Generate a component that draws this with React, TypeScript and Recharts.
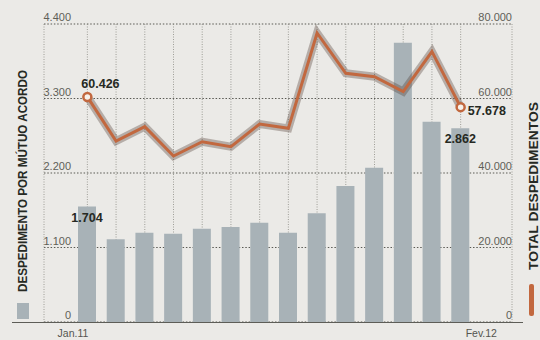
import { ComposedChart, Bar, Line, XAxis, YAxis, CartesianGrid, LabelList } from 'recharts'

const months = ['Jan.11', 'Fev.11', 'Mar.11', 'Abr.11', 'Mai.11', 'Jun.11', 'Jul.11', 'Ago.11', 'Set.11', 'Out.11', 'Nov.11', 'Dez.11', 'Jan.12', 'Fev.12']
const mutuoAcordo = [1704, 1221, 1319, 1304, 1378, 1403, 1467, 1319, 1605, 2008, 2279, 4124, 2958, 2862]
const totalDespedimentos = [60426, 48591, 52430, 44564, 48403, 47069, 53154, 51991, 77585, 66765, 65861, 61834, 72570, 57678]
const leftTicks = [0, 1100, 2200, 3300, 4400]
const rightTicks = [0, 20000, 40000, 60000, 80000]

const data = months.map((m, i) => ({ mes: m, mutuo: mutuoAcordo[i], total: totalDespedimentos[i] }))
const last = months.length - 1

const FONT = "'Liberation Sans', Arial, sans-serif"
const DARK = '#262923'
const BAR = '#a8b2b7'
const LINE = '#c2683f'

const fmt = (n: number) => String(n).replace(/\B(?=(\d{3})+(?!\d))/g, '.')

// eslint-disable-next-line @typescript-eslint/no-explicit-any
const yTick = (anchorX: number) => (props: any) => (
  <text key={props.index} x={anchorX} y={props.y - 3} textAnchor="end" fontSize={11} fill="#5f5f58" fontFamily={FONT}>
    {fmt(props.payload.value)}
  </text>
)

// eslint-disable-next-line @typescript-eslint/no-explicit-any
const xTick = (props: any) => {
  const i = props.index
  if (i !== 0 && i !== last) return <g key={i} />
  return (
    <text key={i} x={i === 0 ? props.x + 1 : props.x + 5} y={props.y} dy="0.71em" textAnchor={i === 0 ? 'end' : 'start'}
      fontSize={10.5} fill="#55554f" fontFamily={FONT}>
      {props.payload.value}
    </text>
  )
}

// eslint-disable-next-line @typescript-eslint/no-explicit-any
const lineDot = (props: any) => {
  if (props.index !== 0 && props.index !== last) return <g key={props.index} />
  return <circle key={props.index} cx={props.cx} cy={props.cy} r={4} fill="#f7f1ea" stroke={LINE} strokeWidth={2.5} />
}

// eslint-disable-next-line @typescript-eslint/no-explicit-any
const lineLabel = (props: any) => {
  const i = props.index
  if (i !== 0 && i !== last) return null
  return (
    <text x={i === 0 ? props.x - 6 : props.x + 7} y={i === 0 ? props.y - 9 : props.y + 8}
      fontSize={12.5} fontWeight="bold" fill={DARK} fontFamily={FONT}>
      {fmt(props.value)}
    </text>
  )
}

// eslint-disable-next-line @typescript-eslint/no-explicit-any
const barLabel = (props: any) => {
  const i = props.index
  if (i !== 0 && i !== last) return null
  return (
    <text x={props.x + props.width / 2} y={props.y + 15} textAnchor="middle"
      fontSize={12.5} fontWeight="bold" fill={DARK} fontFamily={FONT}>
      {fmt(props.value)}
    </text>
  )
}

export default function App() {
  return (
    <div style={{ position: 'absolute', left: 0, top: 0, width: 540, height: 340, background: '#ebeae7', overflow: 'hidden' }}>
      <ComposedChart width={540} height={340} data={data} margin={{ top: 24, right: 0, left: 4, bottom: 0 }}>
        <CartesianGrid yAxisId="left" vertical={false} stroke="#5a5a54" strokeWidth={1.2} strokeDasharray="1.5 1.8" />
        <CartesianGrid yAxisId="left" horizontal={false} stroke="#8a8a83" strokeWidth={0.8} strokeDasharray="1 1.5" />
        <XAxis dataKey="mes" interval={0} height={18} axisLine={false} tickLine={false} tick={xTick}
          padding={{ left: 29, right: 37 }} />
        <YAxis yAxisId="left" width={40} domain={[0, 4400]} ticks={leftTicks} axisLine={false} tickLine={false} tick={yTick(71)} />
        <YAxis yAxisId="right" orientation="right" width={28} domain={[0, 80000]} ticks={rightTicks} axisLine={false} tickLine={false} tick={yTick(512)} />
        <Bar yAxisId="left" dataKey="mutuo" fill={BAR} barSize={18} isAnimationActive={false}>
          <LabelList dataKey="mutuo" content={barLabel} />
        </Bar>
        <Line yAxisId="right" dataKey="total" stroke="#4f3b35" strokeOpacity={0.35} strokeWidth={8} dot={false} activeDot={false} isAnimationActive={false} />
        <Line yAxisId="right" dataKey="total" stroke={LINE} strokeWidth={3} dot={lineDot} activeDot={false} isAnimationActive={false}>
          <LabelList dataKey="total" content={lineLabel} />
        </Line>
      </ComposedChart>
      <svg width={540} height={340} style={{ position: 'absolute', left: 0, top: 0, pointerEvents: 'none' }}>
        <line x1={12} x2={523} y1={322.5} y2={322.5} stroke="#5d5d57" strokeWidth={1.2} />
        <text transform="translate(27,181) rotate(-90)" textAnchor="middle" fontSize={13} fontWeight="bold" fill={DARK} fontFamily={FONT}
          textLength={222} lengthAdjust="spacingAndGlyphs">
          DESPEDIMENTO POR MÚTUO ACORDO
        </text>
        <rect x={17} y={303} width={12} height={16} fill={BAR} />
        <text transform="translate(538,186) rotate(-90)" textAnchor="middle" fontSize={13} fontWeight="bold" fill={DARK} fontFamily={FONT}
          textLength={168} lengthAdjust="spacingAndGlyphs">
          TOTAL DESPEDIMENTOS
        </text>
        <rect x={529} y={284} width={5} height={32} rx={2} fill={LINE} />
      </svg>
    </div>
  )
}
